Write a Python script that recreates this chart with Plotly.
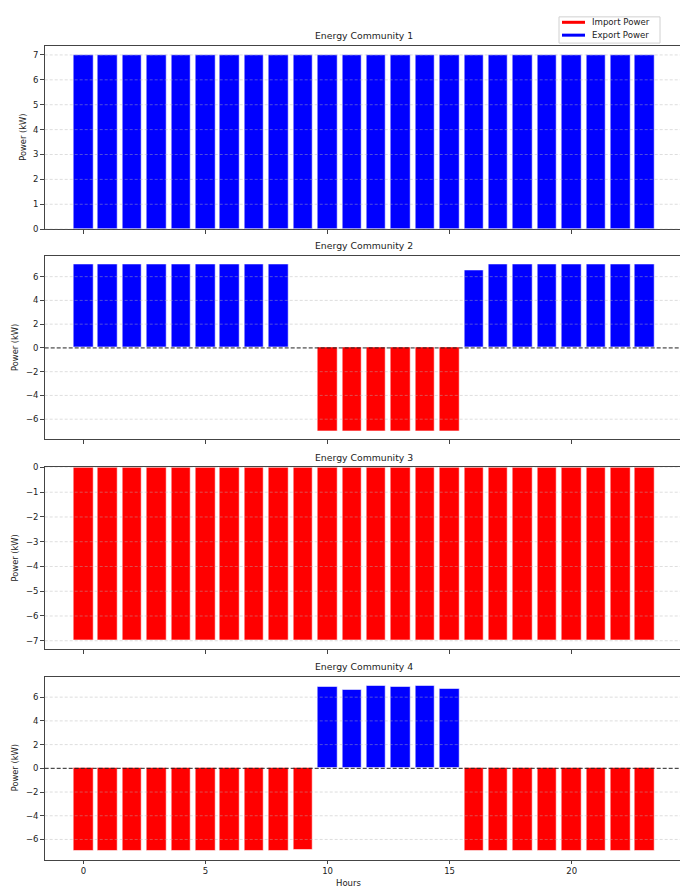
import plotly.graph_objects as go

hours = list(range(24))

ec1_net = [7, 7, 7, 7, 7, 7, 7, 7, 7, 7, 7, 7, 7, 7, 7, 7, 7, 7, 7, 7, 7, 7, 7, 7]
ec2_net = [7, 7, 7, 7, 7, 7, 7, 7, 7, 0, -7, -7, -7, -7, -7, -7, 6.5, 7, 7, 7, 7, 7, 7, 7]
ec3_net = [-7, -7, -7, -7, -7, -7, -7, -7, -7, -7, -7, -7, -7, -7, -7, -7, -7, -7, -7, -7, -7, -7, -7, -7]
ec4_net = [-7, -7, -7, -7, -7, -7, -7, -7, -7, -6.9, 6.89, 6.64, 6.97, 6.86, 6.97, 6.72,
           -7, -7, -7, -7, -7, -7, -7, -7]

communities = ["Energy Community 1", "Energy Community 2", "Energy Community 3", "Energy Community 4"]
nets = [ec1_net, ec2_net, ec3_net, ec4_net]
y_ranges = [[0, 7.35], [-7.7, 7.7], [-7.35, 0], [-7.7, 7.7]]
y_ticks = [[0, 1, 2, 3, 4, 5, 6, 7], [-6, -4, -2, 0, 2, 4, 6], [-7, -6, -5, -4, -3, -2, -1, 0], [-6, -4, -2, 0, 2, 4, 6]]
x_ticks = [0, 5, 10, 15, 20]
legend_names = ["Import Power", "Export Power"]
legend_colors = ["red", "blue"]

W, H = 680, 894
panels_px = [(41.7, 226.7), (254.3, 439.3), (467.7, 651.7), (679.6, 864.3)]
x_left_px = 44.7
ylabel_x_px = [23, 15, 15, 15]

fig = go.Figure()
font = "DejaVu Sans"
edge = dict(color="rgba(255,255,255,0.55)", width=1)

def px(x, y):
    return x / W, 1 - y / H

annotations = []
shapes = []
for i, (name, net) in enumerate(zip(communities, nets)):
    ax = "" if i == 0 else str(i + 1)
    imp = [v if v < 0 else None for v in net]
    exp = [v if v > 0 else None for v in net]
    fig.add_trace(go.Bar(x=hours, y=imp, marker=dict(color="red", line=edge), width=0.8,
                         showlegend=False, xaxis="x" + ax, yaxis="y" + ax, name="Import Power"))
    fig.add_trace(go.Bar(x=hours, y=exp, marker=dict(color="blue", line=edge), width=0.8,
                         showlegend=False, xaxis="x" + ax, yaxis="y" + ax, name="Export Power"))
    top, bot = panels_px[i]
    dom = [1 - bot / H, 1 - top / H]
    fig.update_layout(**{
        "xaxis" + ax: dict(domain=[x_left_px / W, 1], range=[-1.59, 24.44], tickvals=x_ticks,
                           showticklabels=(i == 3), ticks="outside", ticklen=3.5, tickcolor="#444",
                           showline=True, linecolor="#444", linewidth=1, mirror=True,
                           showgrid=False, zeroline=False, anchor="y" + ax,
                           tickfont=dict(family=font, size=8.5, color="#222")),
        "yaxis" + ax: dict(domain=dom, range=y_ranges[i], tickvals=y_ticks[i],
                           ticktext=[("\u2212" + str(-t)) if t < 0 else str(t) for t in y_ticks[i]],
                           ticks="outside", ticklen=3.5, tickcolor="#444",
                           showline=True, linecolor="#444", linewidth=1, mirror=False,
                           showgrid=False, zeroline=False, anchor="x" + ax,
                           tickfont=dict(family=font, size=8.5, color="#222")),
    })
    for t in y_ticks[i]:
        if t == 0 and i in (1, 3):
            continue
        shapes.append(dict(type="line", xref="x" + ax + " domain", yref="y" + ax, x0=0, x1=1, y0=t, y1=t,
                           layer="above", line=dict(color="rgba(180,180,180,0.55)", width=0.8, dash="3px,2px")))
    tx, ty = px((x_left_px + 683) / 2, top - 3)
    annotations.append(dict(text=name, x=tx, y=ty, xref="paper", yref="paper",
                            xanchor="center", yanchor="bottom",
                            showarrow=False, font=dict(family=font, size=9.3, color="#222")))
    lx, ly = px(ylabel_x_px[i], (top + bot) / 2)
    annotations.append(dict(text="Power (kW)", x=lx, y=ly, xref="paper", yref="paper",
                            xanchor="center", yanchor="middle",
                            textangle=-90, showarrow=False, font=dict(family=font, size=8.3, color="#222")))
    if i in (1, 3):
        shapes.append(dict(type="line", xref="x" + ax + " domain", yref="y" + ax, x0=0, x1=1, y0=0, y1=0,
                           layer="above", line=dict(color="#222", width=1, dash="4px,2px")))

hx, hy = px(348, 888)
annotations.append(dict(text="Hours", x=hx, y=hy, xref="paper", yref="paper",
                        xanchor="center", yanchor="middle", showarrow=False,
                        font=dict(family=font, size=8.5, color="#222")))

# legend box drawn manually (matplotlib-style compact legend)
bx0, by0 = px(559, 12)
bx1, by1 = px(660, 38.5)
shapes.append(dict(type="rect", xref="paper", yref="paper", x0=bx0, x1=bx1, y0=by1, y1=by0,
                   line=dict(color="#d0d0d0", width=1), fillcolor="rgba(255,255,255,0.85)", layer="above"))
for k, (nm, col) in enumerate(zip(legend_names, legend_colors)):
    ry = 17.5 + k * 13
    x0, y0 = px(562, ry)
    x1, _ = px(585, ry)
    shapes.append(dict(type="line", xref="paper", yref="paper", x0=x0, x1=x1, y0=y0, y1=y0,
                       line=dict(color=col, width=3), layer="above"))
    tx, _ = px(590, ry)
    annotations.append(dict(text=nm, x=tx, y=y0, xref="paper", yref="paper", xanchor="left",
                            yanchor="middle", showarrow=False,
                            font=dict(family=font, size=8.6, color="#222")))

fig.update_layout(
    width=W, height=H, margin=dict(l=0, r=0, t=0, b=0),
    paper_bgcolor="white", plot_bgcolor="white", bargap=0, barmode="overlay",
    annotations=annotations, shapes=shapes, showlegend=False,
)

fig.write_html("out.html", config={"displayModeBar": False},
               post_script="document.body.style.margin='0px';document.body.style.overflow='hidden';")
